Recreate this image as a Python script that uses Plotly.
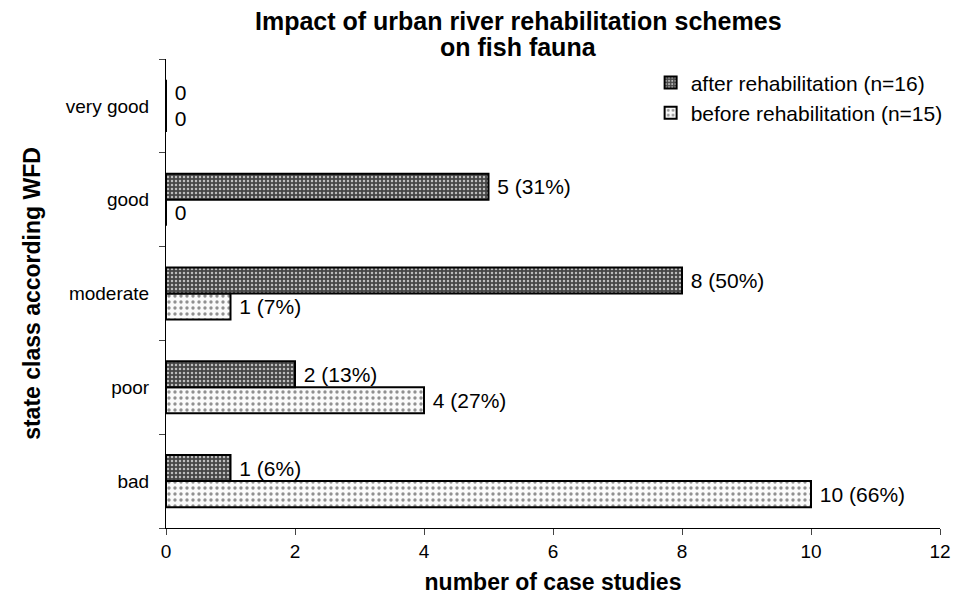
import plotly.graph_objects as go

categories = ["bad", "poor", "moderate", "good", "very good"]
after_vals = [1, 2, 8, 5, 0]
after_labels = ["1 (6%)", "2 (13%)", "8 (50%)", "5 (31%)", "0"]
before_vals = [10, 4, 1, 0, 0]
before_labels = ["10 (66%)", "4 (27%)", "1 (7%)", "0", "0"]
x_ticks = [0, 2, 4, 6, 8, 10, 12]
title_lines = ["Impact of urban river rehabilitation schemes", "on fish fauna"]

FONT = "Liberation Sans, Arial, sans-serif"
NB = "\u00a0"

fig = go.Figure()
fig.add_trace(go.Bar(
    y=categories, x=before_vals, orientation="h",
    name="before rehabilitation (n=15)",
    text=[NB + t for t in before_labels], textposition="outside", cliponaxis=False,
    constraintext="none",
    textfont=dict(family=FONT, size=21, color="black"),
    marker=dict(color="white", line=dict(color="black", width=2),
                pattern=dict(shape=".", fgcolor="#909090", bgcolor="#fafafa",
                             size=6, solidity=0.25, fillmode="replace")),
))
fig.add_trace(go.Bar(
    y=categories, x=after_vals, orientation="h",
    name="after rehabilitation (n=16)",
    text=[NB + t for t in after_labels], textposition="outside", cliponaxis=False,
    constraintext="none",
    textfont=dict(family=FONT, size=21, color="black"),
    marker=dict(color="#555555", line=dict(color="black", width=2),
                pattern=dict(shape=".", fgcolor="#bdbdbd", bgcolor="#464646",
                             size=4, solidity=0.3, fillmode="replace")),
))

fig.update_layout(
    width=954, height=599,
    margin=dict(l=166, r=14, t=59, b=71, autoexpand=False),
    paper_bgcolor="white", plot_bgcolor="white",
    barmode="group", bargap=0.445, bargroupgap=0,
    font=dict(family=FONT, size=19, color="black"),
    showlegend=True,
    legend=dict(xref="container", yref="container", x=0.682, y=0.896,
                xanchor="left", yanchor="top",
                traceorder="reversed", bgcolor="rgba(0,0,0,0)",
                font=dict(family=FONT, size=21, color="black"),
                itemwidth=30, tracegroupgap=0),
    annotations=[
        dict(text="<b>" + title_lines[0] + "</b>", xref="paper", yref="paper",
             x=0.456, y=1.081, xanchor="center", yanchor="middle",
             showarrow=False, font=dict(family=FONT, size=25, color="black")),
        dict(text="<b>" + title_lines[1] + "</b>", xref="paper", yref="paper",
             x=0.456, y=1.0256, xanchor="center", yanchor="middle",
             showarrow=False, font=dict(family=FONT, size=25, color="black")),
    ],
    xaxis=dict(range=[0, 12], tickvals=x_ticks, ticks="outside", ticklen=6,
               showline=True, linecolor="black", linewidth=1, showgrid=False,
               zeroline=False, tickfont=dict(size=19), automargin=False,
               title=dict(text="<b>number of case studies</b>", font=dict(size=23), standoff=13)),
    yaxis=dict(categoryorder="array", categoryarray=categories,
               range=[-0.5, 4.5], automargin=False,
               ticks="outside", ticklen=6, tickson="boundaries",
               showline=True, linecolor="black", linewidth=1, showgrid=False,
               tickfont=dict(size=19), ticklabelstandoff=12,
               title=dict(text="<b>state class according WFD</b>", font=dict(size=23), standoff=18)),
)

fig.write_html("out.html", config={"displayModeBar": False},
               post_script="document.body.style.margin='0px';document.body.style.overflow='hidden';")
